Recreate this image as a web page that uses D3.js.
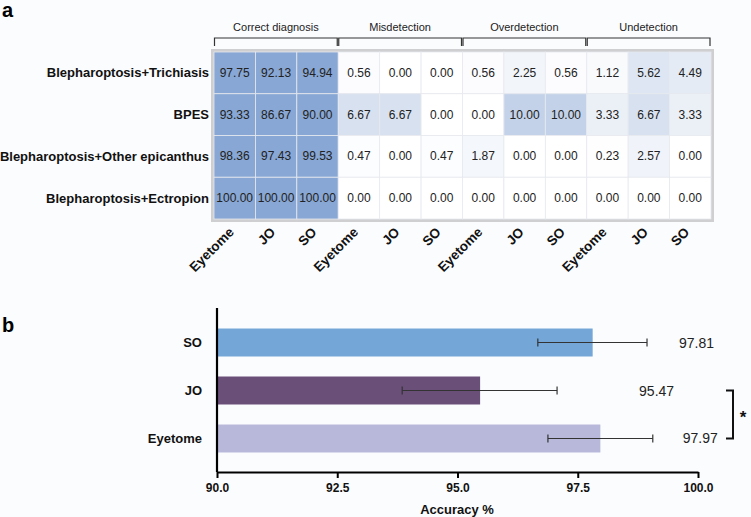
<!DOCTYPE html>
<html>
<head>
<meta charset="utf-8">
<script src="https://cdn.jsdelivr.net/npm/d3@7"></script>
<style>
  body { margin: 0; background: #fbfcfe; }
  svg { display: block; font-family: "Liberation Sans", Arial, sans-serif; }
</style>
</head>
<body>
<div id="chart"></div>
<script>
// ---- panel a data ----
const groups = ["Correct diagnosis", "Misdetection", "Overdetection", "Undetection"];
const raters = ["Eyetome", "JO", "SO"];
const rowNames = ["Blepharoptosis+Trichiasis", "BPES", "Blepharoptosis+Other epicanthus", "Blepharoptosis+Ectropion"];
const cellValues = [
  [97.75, 92.13, 94.94, 0.56, 0.00, 0.00, 0.56, 2.25, 0.56, 1.12, 5.62, 4.49],
  [93.33, 86.67, 90.00, 6.67, 6.67, 0.00, 0.00, 10.00, 10.00, 3.33, 6.67, 3.33],
  [98.36, 97.43, 99.53, 0.47, 0.00, 0.47, 1.87, 0.00, 0.00, 0.23, 2.57, 0.00],
  [100.00, 100.00, 100.00, 0.00, 0.00, 0.00, 0.00, 0.00, 0.00, 0.00, 0.00, 0.00]
];

// ---- panel b data ----
const barNames = ["SO", "JO", "Eyetome"];
const barValues = [97.81, 95.47, 97.97];
const errLow = [96.67, 93.85, 96.88];
const errHigh = [98.94, 97.07, 99.06];
const barColors = ["#74a7d8", "#6a4f79", "#b8b9da"];
const accTicks = [90.0, 92.5, 95.0, 97.5, 100.0];

const W = 751, H = 517;
const svg = d3.select("#chart").append("svg")
  .attr("width", W).attr("height", H)
  .style("background", "#fbfcfe");

// panel letters
svg.append("text").attr("x", 2).attr("y", 17).text("a")
  .style("font-size", "20px").style("font-weight", "bold");
svg.append("text").attr("x", 2).attr("y", 332).text("b")
  .style("font-size", "20px").style("font-weight", "bold");

// ================= heatmap =================
const cols = [];
groups.forEach(g => raters.forEach(r => cols.push(g + "|" + r)));

const gx = d3.scaleBand().domain(cols).range([214, 711]);
const gy = d3.scaleBand().domain(rowNames).range([52, 219]);

const color = d3.scaleLinear()
  .domain([0, 10, 50, 100])
  .range(["#ffffff", "#c3d2e8", "#88a7d4", "#88a7d4"])
  .clamp(true);

// gray frame
svg.append("rect")
  .attr("x", gx.range()[0] - 1.5).attr("y", gy.range()[0] - 1.5)
  .attr("width", gx.range()[1] - gx.range()[0] + 3)
  .attr("height", gy.range()[1] - gy.range()[0] + 3)
  .attr("fill", "none").attr("stroke", "#cfcfd1").attr("stroke-width", 3);

const cells = [];
rowNames.forEach((r, i) => cols.forEach((c, j) => cells.push({ r: r, c: c, v: cellValues[i][j] })));

svg.append("g").selectAll("rect").data(cells).join("rect")
  .attr("x", d => gx(d.c)).attr("y", d => gy(d.r))
  .attr("width", gx.bandwidth()).attr("height", gy.bandwidth())
  .attr("fill", d => color(d.v))
  .attr("stroke", "#e6e9ee").attr("stroke-width", 0.8);

svg.append("g").selectAll("text").data(cells).join("text")
  .attr("x", d => gx(d.c) + gx.bandwidth() / 2)
  .attr("y", d => gy(d.r) + gy.bandwidth() / 2)
  .attr("text-anchor", "middle").attr("dominant-baseline", "central")
  .style("font-size", "12px").attr("fill", "#222")
  .text(d => d.v.toFixed(2));

// row labels
svg.append("g").selectAll("text").data(rowNames).join("text")
  .attr("x", 209).attr("y", d => gy(d) + gy.bandwidth() / 2)
  .attr("text-anchor", "end").attr("dominant-baseline", "central")
  .style("font-size", "13px").style("font-weight", "bold").attr("fill", "#111")
  .text(d => d);

// column labels rotated
svg.append("g").selectAll("text").data(cols).join("text")
  .attr("transform", d => "translate(" + (gx(d) + gx.bandwidth() / 2) + ",233) rotate(-45)")
  .attr("text-anchor", "end")
  .style("font-size", "13.5px").style("font-weight", "bold").attr("fill", "#111")
  .text(d => d.split("|")[1]);

// group brackets
groups.forEach(g => {
  const x0 = gx(g + "|" + raters[0]) + 0.5;
  const x1 = gx(g + "|" + raters[2]) + gx.bandwidth() - 1;
  svg.append("path")
    .attr("d", "M" + x0 + ",46V38H" + x1 + "V46")
    .attr("fill", "none").attr("stroke", "#333").attr("stroke-width", 1.2);
  svg.append("text").attr("x", (x0 + x1) / 2).attr("y", 31)
    .attr("text-anchor", "middle")
    .style("font-size", "11px").attr("fill", "#222").text(g);
});

// ================= bar chart =================
const bx = d3.scaleLinear().domain([90, 100]).range([217, 698]);
const by = d3.scaleBand().domain(barNames).range([318, 463]).paddingInner(0.417).paddingOuter(0.219);

svg.append("g").selectAll("rect").data(barNames).join("rect")
  .attr("x", bx(90)).attr("y", d => by(d))
  .attr("width", (d, i) => bx(barValues[i]) - bx(90))
  .attr("height", by.bandwidth())
  .attr("fill", (d, i) => barColors[i]);

// error bars
const eg = svg.append("g").attr("stroke", "#333").attr("stroke-width", 1.2);
barNames.forEach((d, i) => {
  const cy = by(d) + by.bandwidth() / 2;
  eg.append("line").attr("x1", bx(errLow[i])).attr("x2", bx(errHigh[i])).attr("y1", cy).attr("y2", cy);
  eg.append("line").attr("x1", bx(errLow[i])).attr("x2", bx(errLow[i])).attr("y1", cy - 4).attr("y2", cy + 4);
  eg.append("line").attr("x1", bx(errHigh[i])).attr("x2", bx(errHigh[i])).attr("y1", cy - 4).attr("y2", cy + 4);
});

// value labels (offsets from the end of each error bar)
const labelGap = [32, 82, 30];
svg.append("g").selectAll("text").data(barNames).join("text")
  .attr("x", (d, i) => bx(errHigh[i]) + labelGap[i])
  .attr("y", d => by(d) + by.bandwidth() / 2)
  .attr("dominant-baseline", "central")
  .style("font-size", "14px").attr("fill", "#222")
  .text((d, i) => barValues[i].toFixed(2));

// axes
const xAxis = svg.append("g").attr("transform", "translate(0,472)")
  .call(d3.axisBottom(bx).tickValues(accTicks).tickFormat(d3.format(".1f")).tickSize(6).tickSizeOuter(0));
xAxis.select(".domain").attr("stroke", "#000").attr("stroke-width", 2.2);
xAxis.selectAll(".tick line").attr("stroke", "#000").attr("stroke-width", 2);
xAxis.selectAll(".tick text").style("font-size", "12px").style("font-weight", "bold")
  .style("font-family", "Liberation Sans, Arial, sans-serif").attr("fill", "#111").attr("dy", "0.9em");

const yAxis = svg.append("g").attr("transform", "translate(217,0)")
  .call(d3.axisLeft(by).tickSize(0).tickPadding(15));
yAxis.select(".domain").attr("d", "M0,308V472").attr("stroke", "#000").attr("stroke-width", 2.2);
yAxis.selectAll(".tick text").style("font-size", "13px").style("font-weight", "bold")
  .style("font-family", "Liberation Sans, Arial, sans-serif").attr("fill", "#111");

svg.append("text").attr("x", 457).attr("y", 514).attr("text-anchor", "middle")
  .style("font-size", "13px").style("font-weight", "bold").attr("fill", "#111")
  .text("Accuracy %");

// significance bracket between JO and Eyetome
const yJO = by("JO") + by.bandwidth() / 2;
const yEy = by("Eyetome") + by.bandwidth() / 2;
svg.append("path")
  .attr("d", "M726," + yJO + "H733V" + yEy + "H726")
  .attr("fill", "none").attr("stroke", "#111").attr("stroke-width", 2);
svg.append("text").attr("x", 743).attr("y", (yJO + yEy) / 2 + 9)
  .attr("text-anchor", "middle")
  .style("font-size", "17px").style("font-weight", "bold").attr("fill", "#111").text("*");
</script>
</body>
</html>
